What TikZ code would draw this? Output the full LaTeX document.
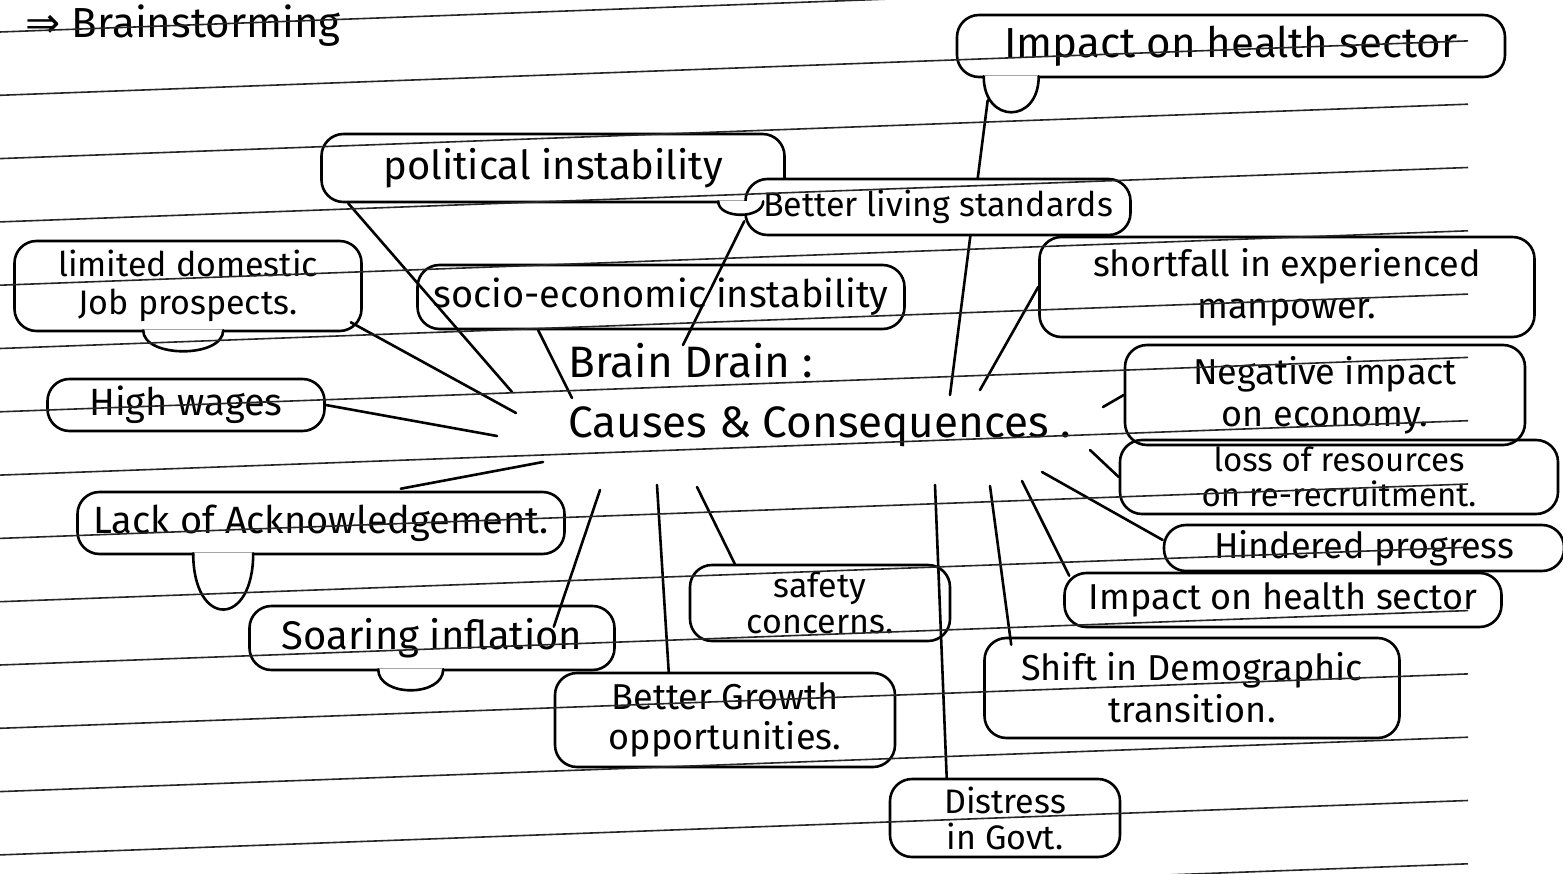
\documentclass[tikz,border=0pt]{standalone}
\usepackage{fontspec}
\setmainfont{Fira Sans}
\newfontfamily\djv{DejaVu Sans}
\usetikzlibrary{calc}
\pgfdeclarelayer{bg}
\pgfdeclarelayer{fg}
\pgfsetlayers{bg,main,fg}
\newcommand{\bubtail}[4]{%
  \draw[tailsty] ($(#1.south west)+(#2,-2)$) .. controls +(0,#4) and +(0,#4) .. ($(#1.south west)+(#3,-2)$);}
\begin{document}
\begin{tikzpicture}[x=1pt,y=-1pt,
  ink/.style={line width=2.6pt, black, line cap=round},
  bubble/.style={draw, ink, rounded corners=22pt, align=center, inner sep=0pt},
  fs/.style 2 args={font=\fontsize{#1}{#2}\selectfont},
  tailsty/.style={ink, fill=white},
  conn/.style={ink},
  paperline/.style={line width=1.6pt, black!85}]
\useasboundingbox (0,0) rectangle (1563,874);

% title
\node[anchor=base west, fs={42}{46}] (title) at (22,38) {{\djv ⇒} Brainstorming};

% centre
\node[anchor=north west, align=left, fs={44}{60}] (hub) at (565,340) {Brain Drain :\\Causes \& Consequences .};

% causes
\node[bubble, fs={40}{44}, minimum width=463pt, minimum height=68pt] (pol) at (553,168) {political instability};
\node[bubble, fill=white, fs={34}{38}, minimum width=385pt, minimum height=56pt] (bls) at (938,207) {Better living standards};
\node[bubble, fs={38}{42}, minimum width=487pt, minimum height=64pt] (sei) at (661,297) {socio-economic instability};
\node[bubble, fs={34}{38}, minimum width=347pt, minimum height=90pt] (ldj) at (188,286) {limited domestic\\Job prospects.};
\node[bubble, fs={38}{42}, minimum width=277pt, minimum height=52pt] (hw) at (186,405) {High wages};
\node[bubble, fs={38}{42}, minimum width=487pt, minimum height=62pt] (loa) at (321,523) {Lack of Acknowledgement.};
\node[bubble, fs={40}{44}, minimum width=365pt, minimum height=64pt] (si) at (432,638) {Soaring inflation};
\node[bubble, fs={34}{36}, minimum width=260pt, minimum height=76pt] (sc) at (820,603) {safety\\concerns.};
\node[bubble, fs={36}{40}, minimum width=340pt, minimum height=94pt] (bgo) at (725,720) {Better Growth\\opportunities.};
\node[bubble, fs={34}{36}, minimum width=230pt, minimum height=78pt] (dig) at (1005,818) {Distress\\in Govt.};

% consequences
\node[bubble, fs={42}{46}, minimum width=548pt, minimum height=62pt] (ihs1) at (1231,46) {Impact on health sector};
\node[bubble, fs={36}{42}, minimum width=495pt, minimum height=100pt] (sem) at (1287,287) {shortfall in experienced\\manpower.};
\node[bubble, fs={36}{42}, minimum width=400pt, minimum height=100pt] (nie) at (1325,395) {Negative impact\\on economy.};
\node[bubble, fs={33}{35}, minimum width=438pt, minimum height=74pt] (lor) at (1339,477) {loss of resources\\on re-recruitment.};
\node[bubble, fs={36}{40}, minimum width=400pt, minimum height=46pt] (hp) at (1364,548) {Hindered progress};
\node[bubble, fs={36}{40}, minimum width=437pt, minimum height=54pt] (ihs2) at (1283,600) {Impact on health sector};
\node[bubble, fs={36}{42}, minimum width=415pt, minimum height=100pt] (sdt) at (1192,688) {Shift in Demographic\\transition.};

% tails
\bubtail{ldj}{130}{210}{28}
\bubtail{loa}{117}{177}{75}
\bubtail{si}{130}{195}{28}
\bubtail{ihs1}{28}{83}{48}
\bubtail{pol}{398}{443}{18}

% hub ends of the connectors
\coordinate (c1) at (512,392);
\coordinate (c2) at (572,398);
\coordinate (c3) at (516,413);
\coordinate (c4) at (497,436);
\coordinate (c5) at (543,462);
\coordinate (c6) at (600,490);
\coordinate (c7) at (657,485);
\coordinate (c8) at (697,487);
\coordinate (c9) at (683,345);
\coordinate (c10) at (935,485);
\coordinate (c11) at (950,395);
\coordinate (c12) at (980,390);
\coordinate (c13) at (1103,407);
\coordinate (c14) at (1090,450);
\coordinate (c15) at (1042,472);
\coordinate (c16) at (1022,481);
\coordinate (c17) at (990,486);

\begin{pgfonlayer}{bg}
\fill[white] (0,0) rectangle (1563,874);
\draw[conn] (c1) -- ($(pol.south west)+(28,0)$);
\draw[conn] (c2) -- ($(sei.south west)+(122,0)$);
\draw[conn] (c3) -- ($(ldj.south east)+(-12,-10)$);
\draw[conn] (c4) -- (hw.east);
\draw[conn] (c5) -- ($(loa.north east)+(-165,-2)$);
\draw[conn] (c6) -- ($(si.north east)+(-62,22)$);
\draw[conn] (c7) -- ($(bgo.north west)+(115,0)$);
\draw[conn] (c8) -- ($(sc.north west)+(46,0)$);
\draw[conn] (c9) -- ($(bls.south west)+(0,-15)$);
\draw[conn] (c10) -- ($(dig.north west)+(58,0)$);
\draw[conn] (c11) -- ($(ihs1.south west)+(32,22)$);
\draw[conn] (c12) -- (sem.west);
\draw[conn] (c13) -- (nie.west);
\draw[conn] (c14) -- (lor.west);
\draw[conn] (c15) -- ($(hp.west)+(0,-8)$);
\draw[conn] (c16) -- ($(ihs2.north west)+(6,4)$);
\draw[conn] (c17) -- ($(sdt.north west)+(28,8)$);
\end{pgfonlayer}

% ruled paper
\begin{pgfonlayer}{fg}
\foreach \k in {0,...,14}{
  \pgfmathsetmacro\ya{32+63.3*\k}
  \pgfmathsetmacro\yb{\ya-54.4}
  \draw[paperline] (0,\ya) -- (1468,\yb);
}
\end{pgfonlayer}
\end{tikzpicture}
\end{document}
